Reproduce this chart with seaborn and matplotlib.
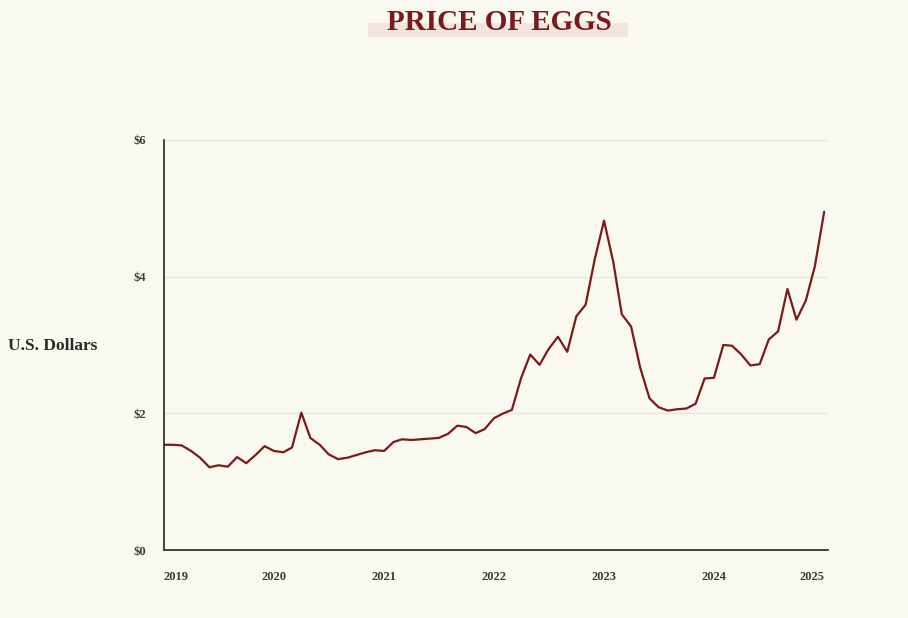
"""
Price of eggs, monthly average (U.S. dollars per dozen)
"""

import matplotlib.pyplot as plt
import matplotlib.patches as patches
import seaborn as sns
import pandas as pd

# monthly values, Jan 2019 .. Jan 2025
months = pd.date_range("2019-01-01", "2025-01-01", freq="MS")
price_2019 = [1.54, 1.54, 1.53, 1.45, 1.35, 1.21, 1.24, 1.22, 1.36, 1.27, 1.39, 1.52]
price_2020 = [1.45, 1.43, 1.50, 2.01, 1.64, 1.54, 1.40, 1.33, 1.35, 1.39, 1.43, 1.46]
price_2021 = [1.45, 1.58, 1.62, 1.61, 1.62, 1.63, 1.64, 1.70, 1.82, 1.80, 1.71, 1.77]
price_2022 = [1.93, 2.00, 2.05, 2.52, 2.86, 2.71, 2.94, 3.12, 2.90, 3.42, 3.59, 4.25]
price_2023 = [4.82, 4.21, 3.45, 3.27, 2.67, 2.22, 2.09, 2.04, 2.06, 2.07, 2.14, 2.51]
price_2024 = [2.52, 3.00, 2.99, 2.86, 2.70, 2.72, 3.08, 3.20, 3.82, 3.37, 3.65, 4.15]
price_2025 = [4.95]

year_ticks = ["2019", "2020", "2021", "2022", "2023", "2024", "2025"]
dollar_ticks = [0, 2, 4, 6]

prices = price_2019 + price_2020 + price_2021 + price_2022 + price_2023 + price_2024 + price_2025
df = pd.DataFrame({"month": months, "price": prices})

BG = "#f9f9ef"
RED = "#7a1a1c"
INK = "#3a3a3a"
SERIF = ["Liberation Serif", "DejaVu Serif"]

sns.set_theme(style="white")
plt.rcParams["font.family"] = SERIF

fig = plt.figure(figsize=(9.08, 6.18), dpi=100, facecolor=BG)
ax = fig.add_axes([0.1806, 0.110, 0.7314, 0.6635], facecolor=BG)

sns.lineplot(data=df, x="month", y="price", color=RED, linewidth=1.6, ax=ax)

ax.set_ylim(0, 6)
ax.set_xlim(months[0], months[-1] + pd.Timedelta(days=13))
ax.set_yticks(dollar_ticks)
ax.set_yticklabels([f"${v}" for v in dollar_ticks], fontsize=9, color=INK,
                   fontweight="bold")
for v in dollar_ticks[1:]:
    ax.axhline(v, color="#e6e5dc", linewidth=0.8, zorder=0)

tick_pos = [pd.Timestamp(f"{y}-01-01") for y in year_ticks]
ax.set_xticks(tick_pos)
ax.set_xticklabels(year_ticks, fontsize=9, color=INK, fontweight="bold")
xl = ax.get_xticklabels()
xl[0].set_ha("left")
xl[-1].set_ha("right")
ax.tick_params(axis="x", length=0, pad=15)
ax.tick_params(axis="y", length=0, pad=13)

ax.set_xlabel("")
ax.set_ylabel("")
for side in ["top", "right"]:
    ax.spines[side].set_visible(False)
for side in ["left", "bottom"]:
    ax.spines[side].set_color("#333333")
    ax.spines[side].set_linewidth(1.3)

# y axis title, horizontal
fig.text(0.009, 1 - 346 / 618, "U.S. Dollars", fontsize=12.5, fontweight="bold",
         color="#2a2a2a", va="center", ha="left")

# title with a soft highlight band behind its lower half
fig.patches.append(patches.Rectangle((368 / 908, 1 - 37 / 618), 260 / 908, 14 / 618,
                                     transform=fig.transFigure, facecolor="#f2e5dd",
                                     edgecolor="none", zorder=0))
fig.text(499 / 908, 1 - 23 / 618, "PRICE OF EGGS", fontsize=21, fontweight="bold",
         color=RED, ha="center", va="center", zorder=2)

fig.savefig("out.png", dpi=100, facecolor=BG)
